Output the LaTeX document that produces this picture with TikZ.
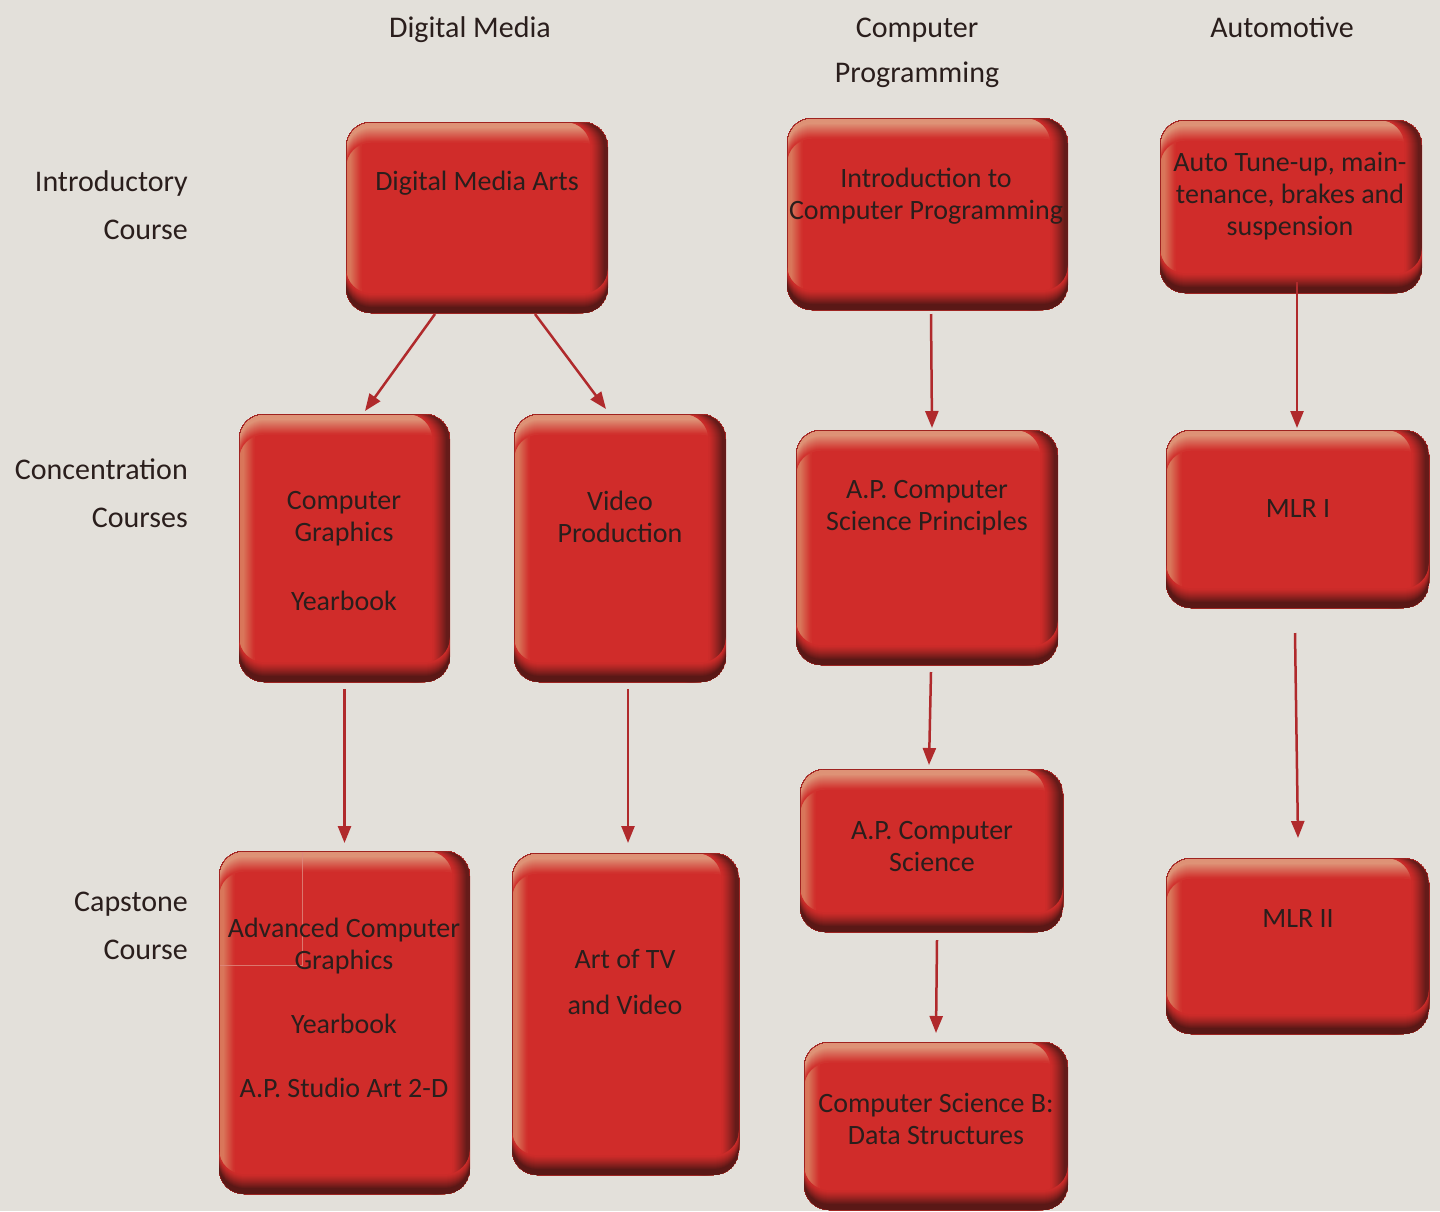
\documentclass[tikz,border=0pt]{standalone}
\usepackage{fontspec}
\setmainfont{Carlito}
\usetikzlibrary{arrows.meta}
\definecolor{bgc}{HTML}{E3E0DA}
\definecolor{boxred}{HTML}{D02C2A}
\definecolor{boxtop}{HTML}{DE9276}
\definecolor{boxleft}{HTML}{D9765A}
\definecolor{boxright}{HTML}{651B19}
\definecolor{boxbot}{HTML}{5A1816}
\definecolor{arrowred}{HTML}{B02A2C}
\definecolor{txt}{HTML}{2A1E1C}
\definecolor{seam}{HTML}{DE8A80}
\begin{document}
\begin{tikzpicture}[x=1pt,y=-1pt,
  ring/.style={rounded corners=25pt, even odd rule},
  box/.style={rectangle, rounded corners=25pt, fill=boxred, draw=none, inner sep=0pt, outer sep=0pt,
    path picture={
      \coordinate (pnw) at (path picture bounding box.north west);
      \coordinate (pse) at (path picture bounding box.south east);
      % left bevel
      \foreach \i in {0,...,14}{
        \pgfmathsetmacro\p{100*min(1,(15-\i)/11)}
        \fill[ring, boxleft!\p!boxred] ([xshift=\i pt]pnw) rectangle (pse) ([xshift={(\i+1.7)*1pt}]pnw) rectangle (pse);
      }
      % top bevel
      \foreach \i in {0,...,19}{
        \pgfmathsetmacro\p{100*min(1,(20-\i)/15)}
        \fill[ring, boxtop!\p!boxred] ([yshift=-\i pt]pnw) rectangle (pse) ([yshift={-(\i+1.7)*1pt}]pnw) rectangle (pse);
      }
      % right bevel
      \foreach \i in {0,...,16}{
        \pgfmathsetmacro\p{100*min(1,(17-\i)/14)^1.2}
        \fill[ring, boxright!\p!boxred] (pnw) rectangle ([xshift=-\i pt]pse) (pnw) rectangle ([xshift={-(\i+1.7)*1pt}]pse);
      }
      % bottom bevel
      \foreach \i in {0,...,18}{
        \pgfmathsetmacro\p{100*min(1,(19-\i)/14)^1.2}
        \fill[ring, boxbot!\p!boxred] (pnw) rectangle ([yshift=\i pt]pse) (pnw) rectangle ([yshift={(\i+1.7)*1pt}]pse);
      }
    }},
  boxtext/.style={text=txt, align=center, inner sep=0pt, font=\fontsize{28}{32}\selectfont},
  header/.style={text=txt, align=center, inner sep=0pt, font=\fontsize{30}{45}\selectfont},
  rowlabel/.style={text=txt, align=right, anchor=east, inner sep=0pt, font=\fontsize{30}{48}\selectfont},
  arr/.style={draw=arrowred, line width=2.5pt, -{Triangle[length=17pt,width=13pt]}},
  seamline/.style={draw=seam, line width=0.8pt, opacity=0.8}
]
\fill[bgc] (0,0) rectangle (1440,1211);
\useasboundingbox (0,0) rectangle (1440,1211);

% headers
\node[header] (hdm) at (470,30) {Digital Media};
\node[header] (hcp) at (917,52.5) {Computer\\Programming};
\node[header] (hau) at (1282,27) {Automotive};

% row labels
\node[rowlabel] (lintro) at (188,205) {Introductory\\Course};
\node[rowlabel] (lconc) at (188,493) {Concentration\\Courses};
\node[rowlabel] (lcap) at (188,926) {Capstone\\Course};

% boxes
\node[box, minimum width=262pt, minimum height=191pt] (dma) at (477,217.5) {};
\node[box, minimum width=281pt, minimum height=192pt] (icp) at (927.5,214) {};
\node[box, minimum width=262pt, minimum height=173pt] (auto) at (1291,206.5) {};
\node[box, minimum width=211pt, minimum height=268pt] (cg) at (344.5,548) {};
\node[box, minimum width=212pt, minimum height=268pt] (vp) at (620,548) {};
\node[box, minimum width=262pt, minimum height=235pt] (apcsp) at (927,547.5) {};
\node[box, minimum width=263pt, minimum height=178pt] (mlr1) at (1297.5,519) {};
\node[box, minimum width=263pt, minimum height=163pt] (apcs) at (931.5,850.5) {};
\node[box, minimum width=263pt, minimum height=176pt] (mlr2) at (1297.5,946) {};
\node[box, minimum width=251pt, minimum height=343pt] (acg) at (344.5,1022.5) {};
\node[box, minimum width=227pt, minimum height=322pt] (art) at (625.5,1014) {};
\node[box, minimum width=264pt, minimum height=168pt] (csb) at (936,1126) {};

% faint seam lines inside the capstone box
\coordinate (sa) at ([xshift=83pt,yshift=-1pt]acg.north west);
\coordinate (sb) at ([xshift=83pt,yshift=-114pt]acg.north west);
\coordinate (sc) at ([xshift=0.5pt,yshift=-114pt]acg.north west);
\draw[seamline] (sa) -- (sb) -- (sc);

% box texts
\node[boxtext] (dmaT) at (477,183) {Digital Media Arts};
\node[boxtext] (icpT) at (926,196) {Introduction to\\Computer Programming};
\node[boxtext] (autoT) at (1290,196) {Auto Tune-up, main-\\tenance, brakes and\\suspension};
\node[boxtext] (cgT) at (344,551.5) {Computer\\Graphics\\[37pt]Yearbook};
\node[boxtext] (vpT) at (620,517) {Video\\Production};
\node[boxtext] (apcspT) at (927,508) {A.P. Computer\\Science Principles};
\node[boxtext] (mlr1T) at (1298,509) {MLR I};
\node[boxtext] (apcsT) at (932,846) {A.P. Computer\\Science};
\node[boxtext] (mlr2T) at (1298,919) {MLR II};
\node[boxtext] (acgT) at (344,1008) {Advanced Computer\\Graphics\\[32pt]Yearbook\\[32pt]A.P. Studio Art 2-D};
\node[boxtext] (artT) at (625,982) {Art of TV\\[14pt]and Video};
\node[boxtext] (csbT) at (936,1119) {Computer Science B:\\Data Structures};

% arrows
\draw[arr] ([xshift=-42pt,yshift=-1pt]dma.south) -- ([xshift=20.5pt,yshift=3pt]cg.north);
\draw[arr] ([xshift=58pt,yshift=-1pt]dma.south) -- ([xshift=-14pt,yshift=5pt]vp.north);
\draw[arr] ([yshift=-7pt]cg.south) -- ([yshift=8pt]acg.north);
\draw[arr] ([xshift=8pt,yshift=-7pt]vp.south) -- ([xshift=2.5pt,yshift=10pt]art.north);
\draw[arr] ([xshift=3.5pt,yshift=-4pt]icp.south) -- ([xshift=5pt,yshift=2pt]apcsp.north);
\draw[arr] ([xshift=4pt,yshift=-7pt]apcsp.south) -- ([xshift=-2.5pt,yshift=4pt]apcs.north);
\draw[arr] ([xshift=5.5pt,yshift=-8pt]apcs.south) -- ([yshift=9pt]csb.north);
\draw[arr] ([xshift=6pt,yshift=11pt]auto.south) -- ([xshift=-0.5pt,yshift=2pt]mlr1.north);
\draw[arr] ([xshift=-2.5pt,yshift=-25pt]mlr1.south) -- ([xshift=0.5pt,yshift=20pt]mlr2.north);
\end{tikzpicture}
\end{document}
